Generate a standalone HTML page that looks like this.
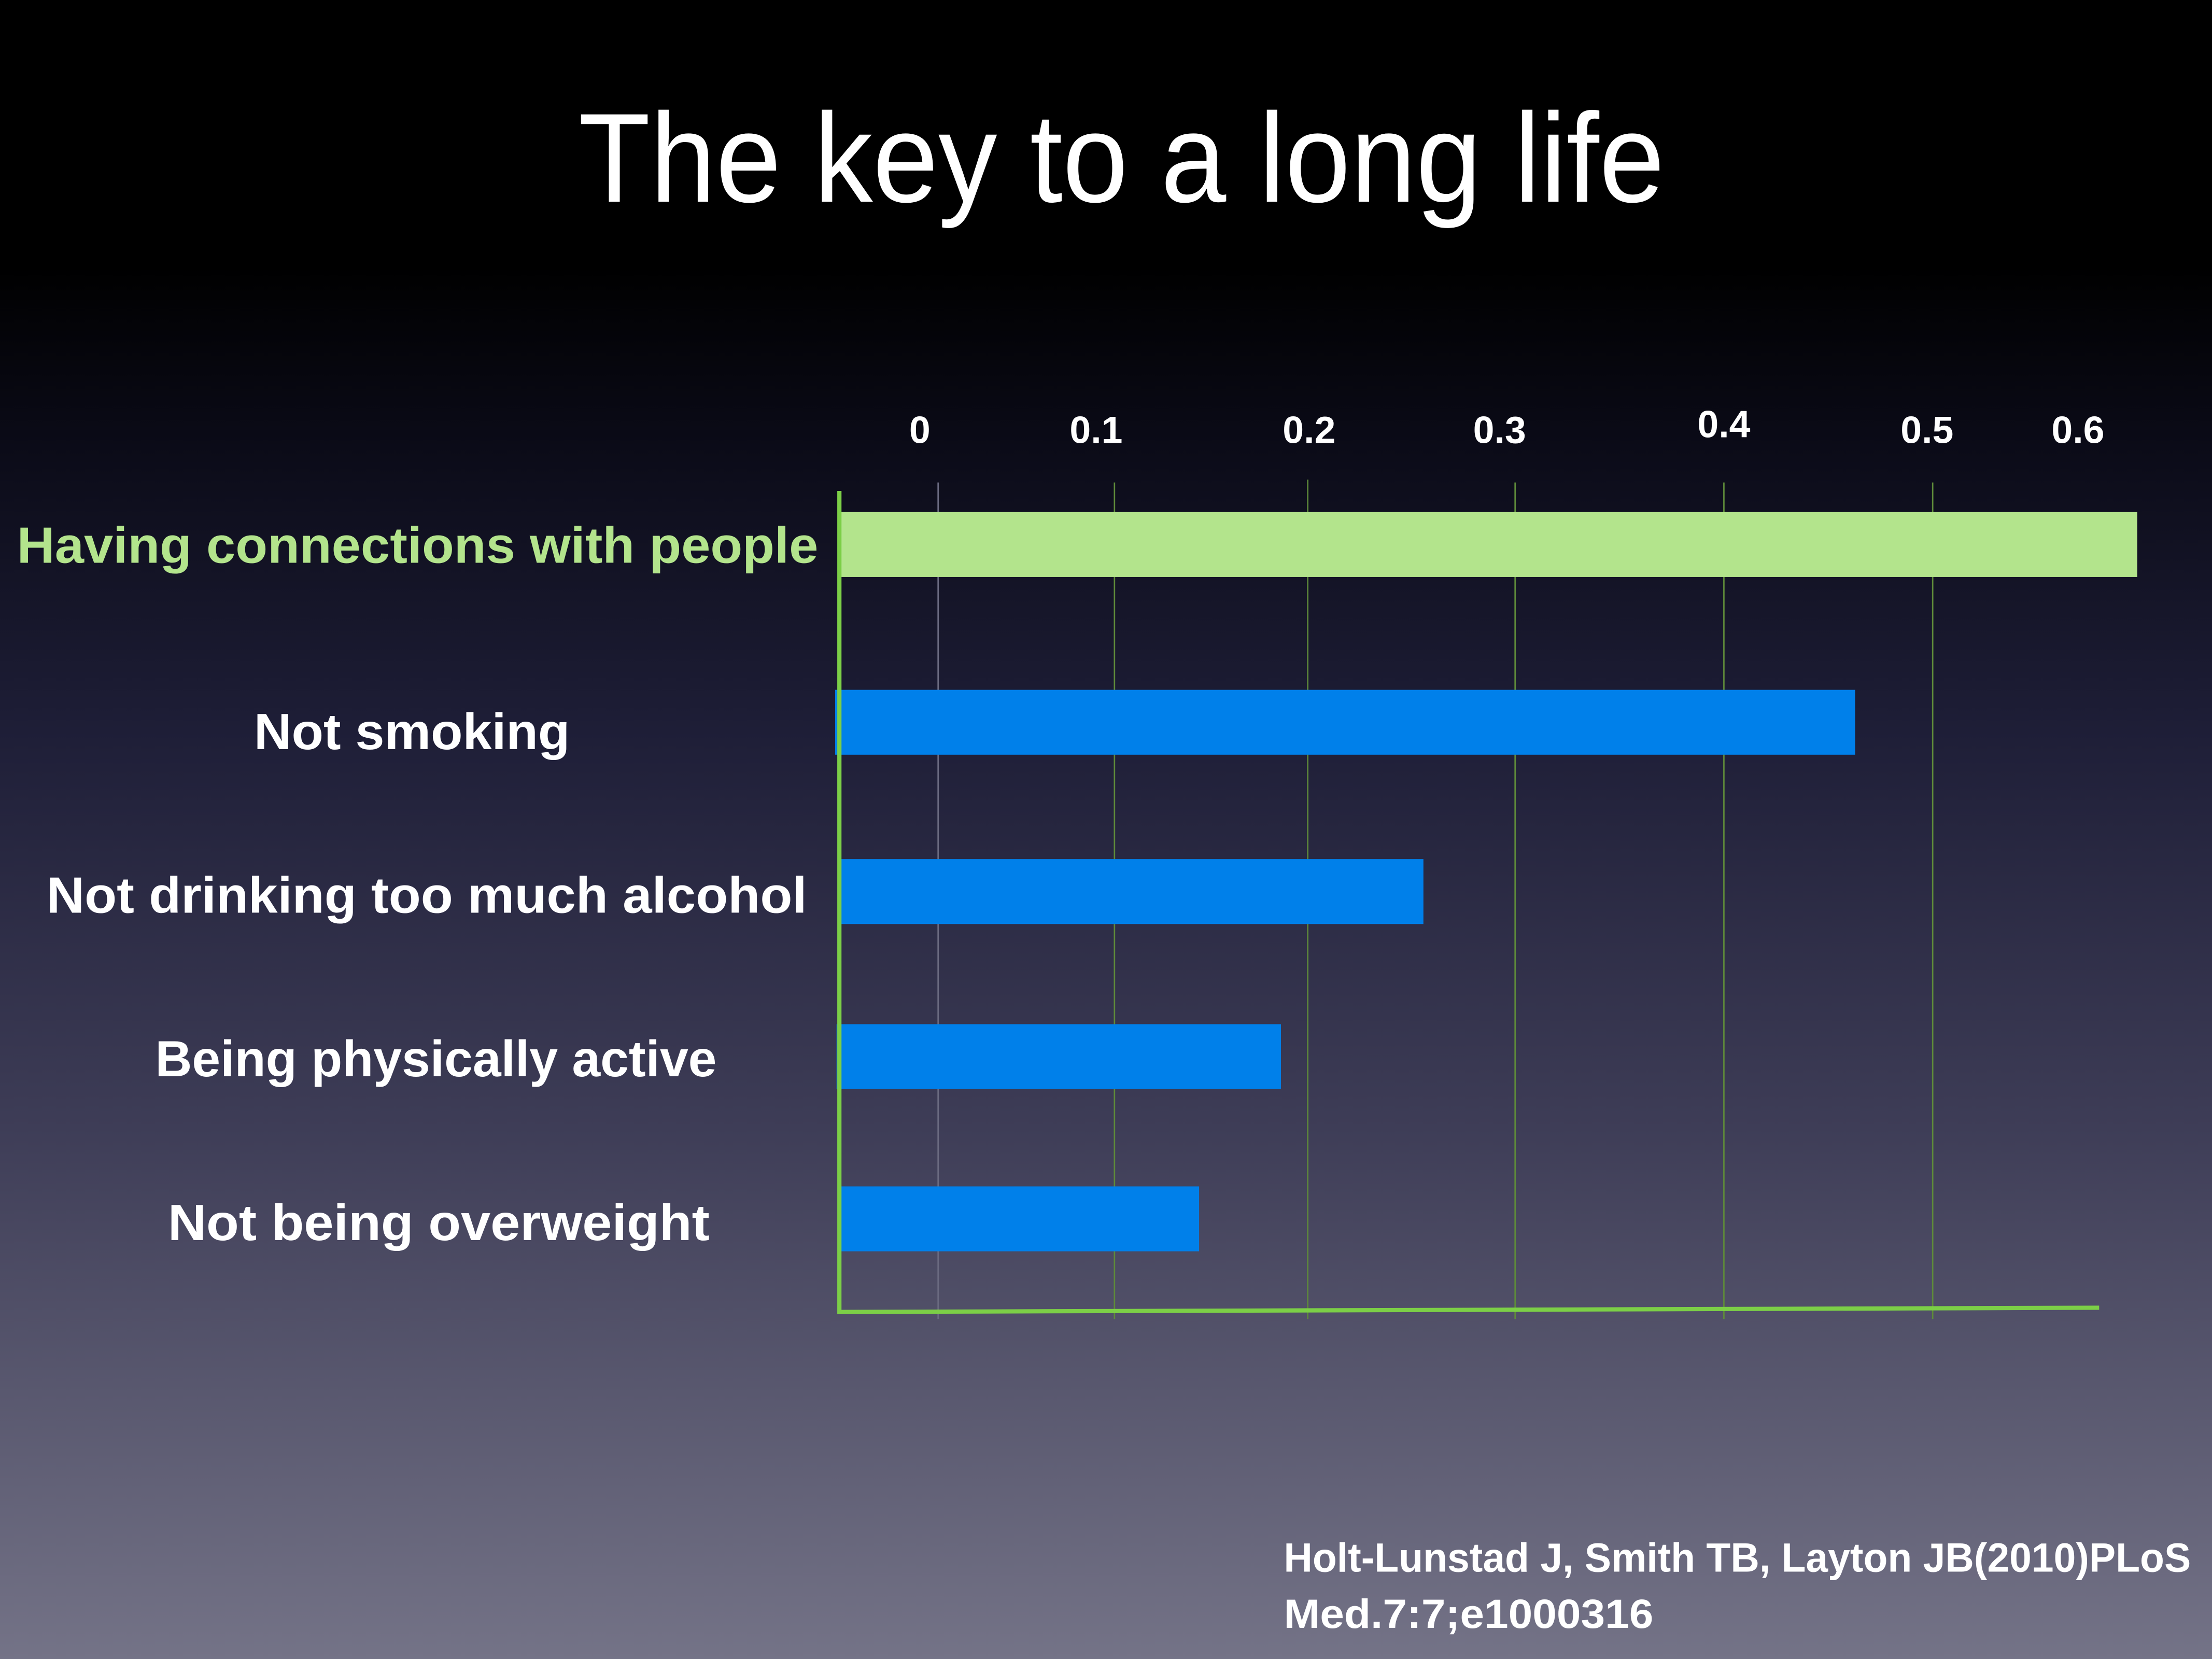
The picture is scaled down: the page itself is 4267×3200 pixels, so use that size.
<!DOCTYPE html>
<html><head><meta charset="utf-8"><style>html,body{margin:0;padding:0;background:#000}svg{display:block}</style></head>
<body>
<svg xmlns="http://www.w3.org/2000/svg" width="4267" height="3200" viewBox="0 0 1568 1176" preserveAspectRatio="none" font-family="'Liberation Sans', sans-serif">
<defs>
<linearGradient id="bg" x1="0" y1="0" x2="0" y2="1">
<stop offset="0" stop-color="#000000"/>
<stop offset="0.16" stop-color="#000000"/>
<stop offset="0.26" stop-color="#0a0a16"/>
<stop offset="0.44" stop-color="#1e1e37"/>
<stop offset="0.68" stop-color="#3e3d57"/>
<stop offset="1" stop-color="#747387"/>
</linearGradient>
</defs>
<rect width="1568" height="1176" fill="url(#bg)"/>
<text x="410" y="143" font-size="90" fill="#fff" textLength="770" lengthAdjust="spacingAndGlyphs">The key to a long life</text>
<g stroke="#5e8a3a" stroke-width="1">
<line x1="665" y1="342" x2="665" y2="935" stroke="#6a6a80"/>
<line x1="790" y1="342" x2="790" y2="935"/>
<line x1="927" y1="340" x2="927" y2="935"/>
<line x1="1074" y1="342" x2="1074" y2="935"/>
<line x1="1222" y1="342" x2="1222" y2="935"/>
<line x1="1370" y1="342" x2="1370" y2="935"/>
</g>
<g font-weight="bold" font-size="27" fill="#fff" text-anchor="middle">
<text x="652" y="314">0</text>
<text x="777" y="314">0.1</text>
<text x="928" y="314">0.2</text>
<text x="1063" y="314">0.3</text>
<text x="1222" y="310">0.4</text>
<text x="1366" y="314">0.5</text>
<text x="1473" y="314">0.6</text>
</g>
<rect x="595" y="363" width="920" height="46" fill="#b3e48c"/>
<rect x="592" y="489" width="723" height="46" fill="#0080ea"/>
<rect x="594" y="609" width="415" height="46" fill="#0080ea"/>
<rect x="593" y="726" width="315" height="46" fill="#0080ea"/>
<rect x="595" y="841" width="255" height="46" fill="#0080ea"/>
<polyline points="595,348 595,930 1488,927" fill="none" stroke="#7ccf47" stroke-width="3"/>
<g font-weight="bold" font-size="36" fill="#fff">
<text x="12" y="399" fill="#b3e48c" textLength="568" lengthAdjust="spacingAndGlyphs">Having connections with people</text>
<text x="180" y="531" textLength="224" lengthAdjust="spacingAndGlyphs">Not smoking</text>
<text x="33" y="647" textLength="539" lengthAdjust="spacingAndGlyphs">Not drinking too much alcohol</text>
<text x="110" y="763" textLength="398" lengthAdjust="spacingAndGlyphs">Being physically active</text>
<text x="119" y="879" textLength="384" lengthAdjust="spacingAndGlyphs">Not being overweight</text>
</g>
<g font-weight="bold" font-size="29" fill="#fff">
<text x="910" y="1114" textLength="643" lengthAdjust="spacingAndGlyphs">Holt-Lunstad J, Smith TB, Layton JB(2010)PLoS</text>
<text x="910" y="1154" textLength="262" lengthAdjust="spacingAndGlyphs">Med.7:7;e1000316</text>
</g>
</svg>
</body></html>
